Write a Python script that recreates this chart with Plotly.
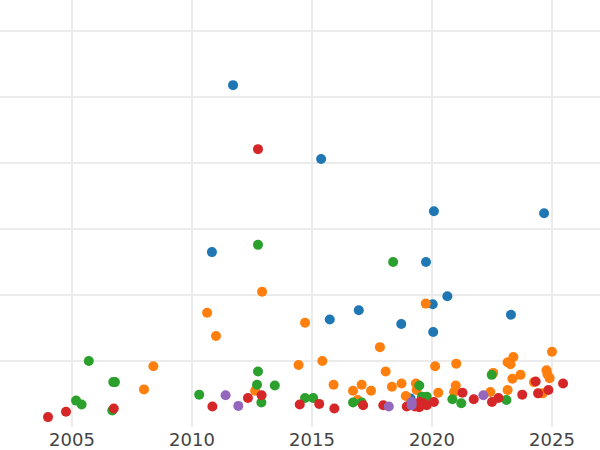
import plotly.graph_objects as go

blue_x = [2011.71, 2015.38, 2020.08, 2024.67, 2010.83, 2019.75, 2020.64, 2020.03, 2016.95, 2015.74, 2023.29, 2018.72, 2020.05, 2019.11]
blue_y = [51.8, 40.6, 32.7, 32.4, 26.5, 25.0, 19.8, 18.6, 17.7, 16.3, 17.0, 15.6, 14.4, 4.3]

orange_x = [2012.92, 2010.63, 2011.0, 2014.71, 2019.74, 2017.83, 2008.39, 2008.0, 2012.63, 2014.44,
            2015.43, 2015.9, 2016.71, 2017.07, 2017.46, 2016.9, 2018.07, 2018.33, 2018.73, 2018.91,
            2019.33, 2019.36, 2020.13, 2020.26, 2021.01, 2020.99, 2020.92, 2022.43, 2022.55, 2023.15,
            2023.27, 2023.39, 2023.35, 2023.69, 2023.15, 2024.25, 2024.61, 2024.77, 2024.81, 2024.9,
            2025.0]
orange_y = [20.5, 17.3, 13.8, 15.8, 18.7, 12.1, 9.2, 5.7, 5.5, 9.4,
            10.0, 6.4, 5.5, 6.4, 5.5, 4.1, 8.4, 6.1, 6.6, 4.7,
            6.6, 5.6, 9.2, 5.2, 9.6, 6.3, 5.3, 5.3, 8.2, 9.8,
            9.5, 10.6, 7.3, 7.9, 5.6, 6.8, 5.1, 8.6, 8.0, 7.4,
            11.4]

green_x = [2012.75, 2018.38, 2005.7, 2006.72, 2006.79, 2005.17, 2005.4, 2006.68, 2010.3, 2012.75,
           2012.71, 2012.89, 2013.45, 2014.71, 2015.05, 2016.71, 2017.07, 2019.47, 2019.58, 2019.78,
           2020.85, 2021.22, 2022.49, 2023.1]
green_y = [27.6, 25.0, 10.0, 6.8, 6.8, 4.0, 3.4, 2.5, 4.9, 8.4,
           6.4, 3.7, 6.3, 4.4, 4.4, 3.7, 3.7, 6.3, 4.6, 4.6,
           4.2, 3.6, 7.9, 4.1]

red_x = [2012.75, 2004.0, 2004.75, 2006.74, 2010.85, 2012.33, 2012.9, 2014.49, 2015.3, 2015.93,
         2017.13, 2017.97, 2018.95, 2019.29, 2019.5, 2019.64, 2019.78, 2019.47, 2020.08, 2019.38,
         2021.27, 2021.74, 2022.5, 2022.77, 2023.76, 2024.32, 2024.42, 2024.85, 2025.46]
red_y = [42.1, 1.5, 2.3, 2.8, 3.1, 4.4, 4.8, 3.4, 3.5, 2.8,
         3.3, 3.3, 3.1, 3.1, 3.8, 3.6, 3.3, 3.0, 3.8, 3.5,
         5.2, 4.2, 3.8, 4.4, 4.9, 6.9, 5.1, 5.6, 6.6]

purple_x = [2011.4, 2011.93, 2018.2, 2019.15, 2019.15, 2022.14]
purple_y = [4.8, 3.2, 3.1, 3.8, 3.3, 4.8]

series = [
    ("A", blue_x, blue_y, "#1f77b4"),
    ("B", orange_x, orange_y, "#ff7f0e"),
    ("C", green_x, green_y, "#2ca02c"),
    ("D", red_x, red_y, "#d62728"),
    ("E", purple_x, purple_y, "#9467bd"),
]

fig = go.Figure()
for name, xs, ys, col in series:
    fig.add_trace(go.Scatter(x=xs, y=ys, mode="markers", name=name,
                             marker=dict(size=10, color=col, line=dict(width=0))))

fig.update_layout(
    width=600, height=450,
    paper_bgcolor="white", plot_bgcolor="white",
    margin=dict(l=0, r=0, t=0, b=23),
    showlegend=False,
    font=dict(family="DejaVu Sans", size=18, color="#444"),
)
fig.update_xaxes(range=[2002, 2027], dtick=5, tick0=2005, showgrid=True,
                 gridcolor="#ebebeb", gridwidth=2, zeroline=False, showline=False,
                 ticks="", automargin=False, tickfont=dict(size=18, color="#444"))
fig.update_yaxes(range=[0, 64.7], dtick=10, tick0=0, showgrid=True,
                 gridcolor="#ebebeb", gridwidth=2, zeroline=False, showline=False,
                 showticklabels=False, ticks="", automargin=False)

fig.write_html("out.html",
               config={"displayModeBar": False},
               post_script="document.body.style.margin='0';document.body.style.overflow='hidden';")
